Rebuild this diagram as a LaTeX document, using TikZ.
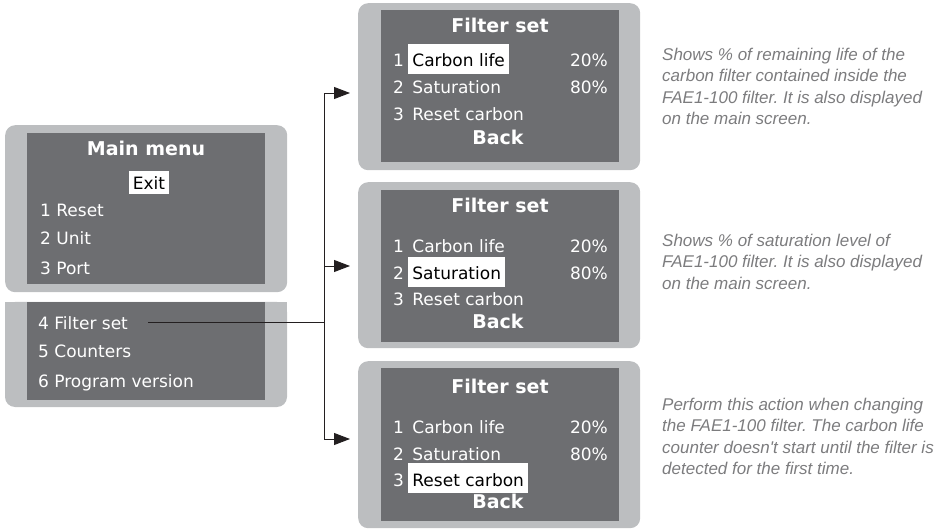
\documentclass[tikz,border=0pt]{standalone}
\usepackage{fontspec}
\newfontfamily\lcdfont{DejaVu Sans}
\newfontfamily\notefont{Liberation Sans}
\usepackage{tikz}
\usetikzlibrary {arrows.meta,
                 positioning}
\definecolor{casegray}{HTML}{BCBEC0}
\definecolor{lcdgray}{HTML}{6D6E71}
\definecolor{notegray}{HTML}{7C7C7E}
\definecolor{wire}{HTML}{231F20}
\frenchspacing
\tikzset{
        outer/.style={fill=casegray, rounded corners=10pt, inner sep=0pt},
        screen/.style={fill=lcdgray, inner sep=0pt},
        item/.style={text=white, font=\lcdfont\fontsize{17}{20}\selectfont,
                     inner xsep=4pt, inner ysep=4pt, text height=19pt,
                     text depth=3pt},
        pick/.style={item, fill=white, text=black},
        title/.style={text=white, font=\lcdfont\bfseries\fontsize{19}{22}\selectfont,
                      inner sep=0pt},
        note/.style={text=notegray, align=left, inner sep=0pt,
                     font=\notefont\itshape\fontsize{17}{21.3}\selectfont},
        myarrow/.style={-{Triangle[length=16pt, width=12pt]}, line width=0.9pt, wire},
 }

\begin{document}
\begin{tikzpicture}[x=1pt, y=-1pt]
    \useasboundingbox (0,0) rectangle (948,529);

    % main menu, upper part
    \node[outer, minimum width=282pt, minimum height=167pt, anchor=north west] (menuA) at (5,125) {};
    \node[screen, minimum width=238pt, minimum height=151pt, anchor=north west] (scrM) at (27,133) {};
    \node[title, anchor=base] (mtitle) at (146,156) {Main menu};
    \node[item, fill=white, text=black, anchor=base, inner ysep=2pt, text height=17pt, text depth=2pt] (exit) at (149,190) {Exit};
    \node[item, anchor=base west] (m1) at (36,217) {1 Reset};
    \node[item, anchor=base west] (m2) at (36,245) {2 Unit};
    \node[item, anchor=base west] (m3) at (36,275) {3 Port};

    % main menu, lower part
    \fill[casegray, rounded corners=10pt] (5,302) rectangle (287,407);
    \fill[casegray] (5,302) rectangle (287,320);
    \node[screen, minimum width=238pt, minimum height=98pt, anchor=north west] (scrN) at (27,302) {};
    \node[item, anchor=base west] (m4) at (34,330) {4 Filter set};
    \node[item, anchor=base west] (m5) at (34,358) {5 Counters};
    \node[item, anchor=base west] (m6) at (34,388) {6 Program version};

    % filter set, carbon life
    \node[outer, minimum width=282pt, minimum height=167pt, anchor=north west] (fsA) at (358,3) {};
    \node[screen, minimum width=238pt, minimum height=152pt, anchor=north west] (scrA) at (381,10) {};
    \node[title, anchor=base] (tA) at (500,33) {Filter set};
    \node[item, anchor=base west] (nA1) at (389,67) {1};
    \node[pick, right=0cm of nA1] (cA) {Carbon life};
    \node[item, anchor=base east] (pA1) at (612,67) {20\%};
    \node[item, anchor=base west] (nA2) at (389,94) {2};
    \node[item, right=0cm of nA2] (sA) {Saturation};
    \node[item, anchor=base east] (pA2) at (612,94) {80\%};
    \node[item, anchor=base west] (nA3) at (389,121) {3};
    \node[item, right=0cm of nA3] (rA) {Reset carbon};
    \node[title, anchor=base] (bA) at (498,145) {Back};

    % filter set, saturation
    \node[outer, minimum width=282pt, minimum height=166pt, anchor=north west] (fsB) at (358,182) {};
    \node[screen, minimum width=238pt, minimum height=152pt, anchor=north west] (scrB) at (381,190) {};
    \node[title, anchor=base] (tB) at (500,213) {Filter set};
    \node[item, anchor=base west] (nB1) at (389,253) {1};
    \node[item, right=0cm of nB1] (cB) {Carbon life};
    \node[item, anchor=base east] (pB1) at (612,253) {20\%};
    \node[item, anchor=base west] (nB2) at (389,280) {2};
    \node[pick, right=0cm of nB2] (sB) {Saturation};
    \node[item, anchor=base east] (pB2) at (612,280) {80\%};
    \node[item, anchor=base west] (nB3) at (389,306) {3};
    \node[item, right=0cm of nB3] (rB) {Reset carbon};
    \node[title, anchor=base] (bB) at (498,329) {Back};

    % filter set, reset carbon
    \node[outer, minimum width=282pt, minimum height=167pt, anchor=north west] (fsC) at (358,361) {};
    \node[screen, minimum width=238pt, minimum height=153pt, anchor=north west] (scrC) at (381,368) {};
    \node[title, anchor=base] (tC) at (500,393) {Filter set};
    \node[item, anchor=base west] (nC1) at (389,433) {1};
    \node[item, right=0cm of nC1] (cC) {Carbon life};
    \node[item, anchor=base east] (pC1) at (612,433) {20\%};
    \node[item, anchor=base west] (nC2) at (389,460) {2};
    \node[item, right=0cm of nC2] (sC) {Saturation};
    \node[item, anchor=base east] (pC2) at (612,460) {80\%};
    \node[item, anchor=base west] (nC3) at (389,486) {3};
    \node[pick, right=0cm of nC3] (rC) {Reset carbon};
    \node[title, anchor=base] (bC) at (498,508) {Back};

    % notes
    \node[note, anchor=north west] (noteA) at (662,48) {Shows \% of remaining life of the\\carbon filter contained inside the\\FAE1-100 filter. It is also displayed\\on the main screen.};
    \node[note, anchor=north west] (noteB) at (662,234) {Shows \% of saturation level of\\FAE1-100 filter. It is also displayed\\on the main screen.};
    \node[note, anchor=north west] (noteC) at (662,398) {Perform this action when changing\\the FAE1-100 filter. The carbon life\\counter doesn't start until the filter is\\detected for the first time.};

    % connectors
    \coordinate (tipA) at (350,93);
    \coordinate (tipB) at (350,266);
    \coordinate (tipC) at (350,439);
    \coordinate (fork) at (m4.east -| 324,0);
    \draw[wire, line width=0.9pt] ([xshift=16pt]m4.east) -- (fork);
    \draw[myarrow] (fork) |- (tipA);
    \draw[myarrow] (fork) |- (tipB);
    \draw[myarrow] (fork) |- (tipC);
\end{tikzpicture}
\end{document}
